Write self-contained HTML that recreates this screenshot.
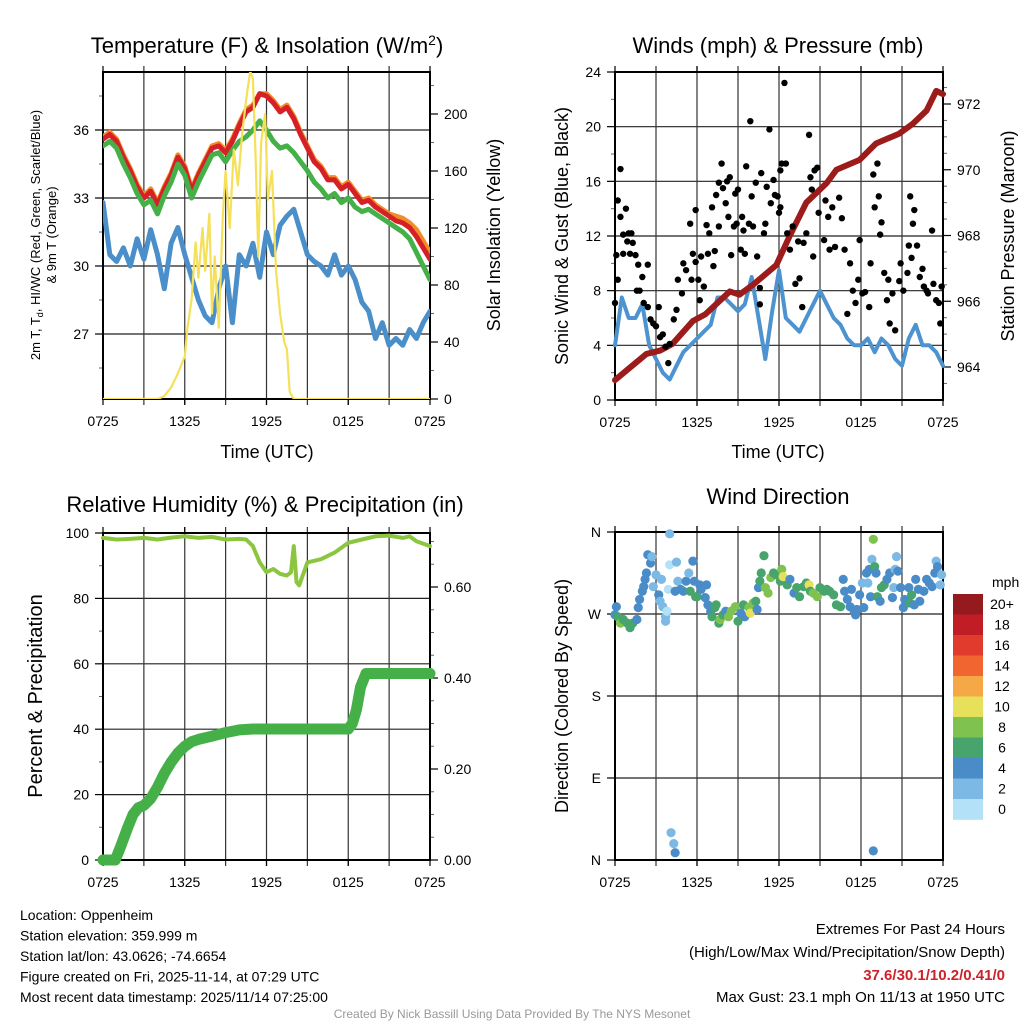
<!DOCTYPE html>
<html><head><meta charset="utf-8"><style>
body{margin:0;background:#fff;}
svg{display:block;font-family:"Liberation Sans",sans-serif;}
</style></head><body>
<svg id="s" width="1024" height="1024" viewBox="0 0 1024 1024"></svg>
<script>
// ---------- DATA ----------
const xTickLabels=["0725","1325","1925","0125","0725"];
const tHours=[0,0.5,1,1.5,2,2.5,3,3.5,4,4.5,5,5.5,6,6.5,7,7.5,8,8.5,9,9.5,10,10.5,11,11.5,12,12.5,13,13.5,14,14.5,15,15.5,16,16.5,17,17.5,18,18.5,19,19.5,20,20.5,21,21.5,22,22.5,23,23.5,24];
const temp2m=[35.6,35.8,35.5,34.8,34.2,33.5,33,33.3,32.7,33.4,34,34.8,34.3,33.3,34,34.6,35.2,35.3,35,35.5,36.2,36.8,37,37.6,37.5,37.2,36.8,37,36.5,35.8,35.2,34.6,34.3,33.8,33.8,33.4,33.6,33.2,32.8,32.9,32.6,32.4,32.2,32,31.9,31.7,31.3,30.8,30.3];
const temp9m=[35.7,35.9,35.6,34.9,34.3,33.6,33.1,33.4,32.8,33.5,34.1,34.9,34.4,33.4,34.1,34.7,35.3,35.4,35.1,35.6,36.3,36.9,37.1,37.6,37.6,37.3,36.9,37.1,36.6,35.9,35.3,34.7,34.4,33.9,33.9,33.5,33.7,33.3,32.9,33,32.7,32.5,32.3,32.2,32.1,31.9,31.6,31.1,30.6];
const heatIndex=[35.3,35.5,35.2,34.5,33.9,33.2,32.7,32.9,32.3,33.1,33.7,34.5,34,33,33.7,34.3,34.9,35,34.6,35.1,35.5,35.7,36,36.4,36,35.5,35.2,35.3,35,34.6,34.2,33.7,33.4,33,33.2,32.8,33,32.6,32.4,32.5,32.3,32.1,31.9,31.7,31.5,31.2,30.6,30,29.4];
const dewPoint=[32.8,30.5,30.2,30.8,30,31.2,30.3,31.6,30.5,29,31,31.7,30.5,29.5,28.5,27.8,27.5,29,30,27.5,30.5,30,31,29.5,31.5,30.5,31.8,32.2,32.5,31.5,30.5,30.2,30,29.6,30.5,29.6,30,29.4,28.4,28,26.8,27.5,26.5,26.8,26.5,27.2,26.8,27.5,28];
const solarHours=[0,4,4.5,5,5.5,6,6.2,6.5,6.8,7,7.3,7.5,7.8,8,8.2,8.5,8.8,9,9.3,9.6,9.9,10.2,10.5,10.8,11,11.2,11.4,11.6,11.9,12.1,12.4,12.7,13,13.3,13.5,13.7,14,24];
const solarVals=[0,0,2,8,18,30,50,70,110,85,120,90,130,60,100,50,130,160,120,175,150,185,210,230,225,170,100,180,200,140,160,90,60,40,35,5,0,0];
const windSpeed=[4,7.5,6,6,7,4,3,2,1.5,2.5,3.5,4,4.5,5,5.5,7.5,7.5,7,6.5,7,9,6,3,6.5,9.5,6,5.5,5,6,7,8,7,6,5.5,4.5,4,4,4.5,3.5,4.5,4,3,2.5,4.5,5.5,4,4,3.5,2.5];
const pressHours=[0,2.3,3.3,4.2,5.7,6.6,8.4,9.1,10.1,11.8,12.8,14,15.5,16.2,17.9,19.1,20.8,21.8,22.8,23.5,24];
const pressVals=[963.6,964.4,964.5,964.7,965.4,965.6,966.3,966.2,966.5,967.1,968,969,969.6,970,970.3,970.8,971.1,971.4,971.8,972.4,972.3];
const gustHours=[0,0.1,0.2,0.2,0.4,0.4,0.6,0.6,0.8,0.9,1,1.1,1.2,1.3,1.5,1.6,1.7,1.8,2,2.1,2.4,2.4,2.6,2.8,3,3.2,3.3,3.5,3.7,3.9,4,4.3,4.5,4.6,4.9,5,5.2,5.5,5.6,5.7,5.9,5.9,6.1,6.2,6.3,6.5,6.7,6.8,6.9,7.1,7.2,7.3,7.4,7.6,7.6,7.8,7.9,8.1,8.2,8.3,8.4,8.5,8.7,8.8,8.9,9,9.2,9.3,9.4,9.5,9.6,9.8,9.9,10,10.1,10.3,10.4,10.6,10.6,10.7,10.9,11,11.1,11.3,11.4,11.6,11.7,11.9,12,12.1,12.1,12.2,12.4,12.5,12.6,12.8,13,13.2,13.4,13.5,13.7,13.8,14,14.2,14.3,14.4,14.5,14.6,14.8,14.9,15.3,15.4,15.6,15.7,15.9,16.1,16.4,16.6,16.8,17,17.2,17.4,17.6,17.8,17.9,18.1,18.3,18.6,18.7,18.9,19,19.2,19.3,19.4,19.5,19.7,19.9,20,20.1,20.3,20.5,20.8,20.9,21.1,21.4,21.5,21.6,21.7,21.8,21.9,22.1,22.3,22.5,22.6,22.8,22.9,23.2,23.3,23.5,23.7,23.8,23.9];
const gustMph=[7.1,10.6,8.8,14.6,13.4,16.9,12.1,10.7,14,11.6,12.2,10.7,12.2,11.5,10.6,8,9.9,8,9,7.1,9.9,6.8,5.9,5.6,5.4,6.8,4.6,4.8,3.9,2.7,4.1,5.9,6.6,8.8,7.8,10,9.5,12.9,8.8,10.7,10.1,13.9,8.8,7.3,10.5,8.3,12.8,10.7,12.2,14.1,9.8,10.9,15,12.7,15.9,17.3,15.5,14.4,16,13.4,16.3,10.6,12.7,15.1,12.9,15.4,11,13.4,12.4,10.7,17.1,12.9,20.4,14.9,12.7,15.9,10.5,7,8.2,16.6,12.2,12.9,15.6,19.8,14.4,16.1,15,14.9,13.7,16.8,14.1,17.3,23.2,17.3,12.2,11,12.7,8.5,11.6,8.9,6.8,11.5,12.2,19.4,16.3,15.4,10.5,16.8,17,13.7,11.7,14.6,13.4,11,14.1,11.2,14.8,13.3,11,6.3,10,8,7.1,8.8,11.7,7.8,7.9,6.8,10,16.5,14.1,17.3,14.9,12.1,13,9.3,7.3,8.8,5.6,7.8,5.1,8.7,10,8,9.3,11.3,14.9,10.4,12.9,13.9,11.3,9,9.6,8.3,8,7.8,12.4,8.5,7.3,7.1,5.6,8.3];
const rhHours=[0,1,2,3,4,5,6,7,8,9,10,10.5,11,11.5,12,12.5,13,13.5,13.8,14,14.2,14.4,15,16,17,18,19,20,21,22,22.5,23,24];
const rhVals=[98.5,98,98.2,98.5,98,98.6,99,98.5,98.8,98,98.2,98,96,91,88,89,87.5,87,88,96,85,84,91,92,94,97,98,99,99.2,98.5,99,97.5,96];
const precipHours=[0,0.9,1.3,1.8,2.2,2.6,3,3.5,4,4.5,5,5.5,6,6.5,7,8,9,10,11,18,18.3,18.6,18.9,19.3,24];
const precipVals=[0,0,0.03,0.07,0.1,0.115,0.12,0.135,0.16,0.19,0.215,0.235,0.25,0.26,0.265,0.272,0.28,0.286,0.288,0.288,0.3,0.33,0.38,0.41,0.41];
const dirHours=[0,0.1,0.2,0.4,0.6,0.9,1.1,1.3,1.6,1.7,1.8,2,2.1,2.2,2.3,2.4,2.6,2.7,2.8,3,3.2,3.3,3.4,3.5,3.7,3.7,3.8,3.9,4,4,4.4,4.5,4.6,4.8,5,5.2,5.4,5.5,5.7,5.8,5.9,6,6.2,6.3,6.6,6.7,6.8,7,7.1,7.3,7.4,7.6,7.7,7.9,8.1,8.3,8.5,8.8,9,9.2,9.4,9.5,9.8,9.9,10.1,10.3,10.4,10.5,10.6,10.7,10.9,11,11.2,11.4,11.6,11.8,12.1,12.2,12.3,12.6,12.8,13.1,13.3,13.5,13.8,14,14.2,14.3,14.5,14.8,15,15.3,15.5,15.7,16,16.2,16.5,16.7,16.8,17,17.2,17.3,17.5,17.6,17.7,17.9,18.1,18.2,18.4,18.5,18.6,18.7,18.8,18.9,19,19.1,19.2,19.4,19.5,19.7,19.9,20.1,20.3,20.4,20.5,20.6,20.7,20.9,21.1,21.2,21.5,21.6,21.7,21.9,22,22.2,22.3,22.6,22.8,23,23.2,23.4,23.5,23.6,23.8,23.9,4.1,4.3,4.4,18.9];
const dirDeg=[269,278,267,260,264,260,255,260,264,277,286,295,300,308,315,335,326,333,300,313,291,284,308,278,267,262,273,297,324,358,295,327,306,297,295,306,315,295,328,306,289,289,302,297,288,302,280,273,267,277,280,260,264,269,273,267,273,278,262,271,280,267,277,271,282,284,275,299,306,315,334,299,293,310,315,313,306,319,311,302,308,293,299,289,300,304,302,295,293,289,299,295,297,295,291,280,278,308,295,286,278,297,273,269,275,291,304,277,315,304,319,289,330,352,322,315,289,284,299,302,308,315,288,299,319,333,317,299,277,286,299,282,291,280,308,297,284,295,308,304,300,315,328,322,302,313,30,18,8,10];
const dirSpeed=[4,4,6,8,6,6,6,6,4,4,4,4,4,4,4,4,4,2,2,2,4,2,2,2,2,2,0,0,0,2,4,2,2,4,4,4,2,6,4,4,6,6,4,4,4,4,4,4,6,6,6,6,8,6,4,8,8,8,6,4,6,4,8,10,8,6,4,4,6,6,6,8,8,8,6,6,6,8,10,6,4,4,6,6,6,6,10,6,8,8,6,6,6,6,6,6,6,4,4,4,4,4,4,4,4,4,2,4,4,2,4,4,2,8,6,4,6,4,6,6,4,4,4,2,2,2,4,4,4,4,4,6,6,4,4,4,4,4,4,4,4,4,2,4,2,2,2,2,4,4];
const speedBins=["0","2","4","6","8","10","12","14","16","18","20+"];
const speedColors=["#b3e1f7","#7cb9e4","#4a8cc7","#47a46c","#7fc24f","#e6e05b","#f6a846","#f06530","#e03b2c","#c11d27","#951a1e"];

// ---------- HELPERS ----------
const svg=document.getElementById('s');
const NS='http://www.w3.org/2000/svg';
function el(tag,attrs,parent){const e=document.createElementNS(NS,tag);for(const k in attrs)e.setAttribute(k,attrs[k]);(parent||svg).appendChild(e);return e;}
function txt(x,y,s,size,anchor,parent,extra){const t=el('text',Object.assign({x:x,y:y,'font-size':size,'text-anchor':anchor||'middle',fill:'#000'},extra||{}),parent);t.textContent=s;return t;}
function lin(d0,d1,r0,r1){return v=>r0+(v-d0)/(d1-d0)*(r1-r0);}
function poly(xs,ys,fx,fy){return xs.map((h,i)=>fx(h).toFixed(1)+','+fy(ys[i]).toFixed(1)).join(' ');}

function panel(name,L,R,T,B,leftTicks,fyL,rightTicks,fyR,hGridVals,minorL,minorR){
  const g=el('g',{});
  
  
  const fx=lin(0,24,L,R);
  // horizontal grid
  hGridVals.forEach(v=>{const y=fyL(v);const l=el('line',{x1:L,x2:R,y1:y,y2:y,stroke:'#222','stroke-width':1.2},g);});
  // vertical grid every 3h
  for(let h=3;h<24;h+=3){const l=el('line',{x1:fx(h),x2:fx(h),y1:T,y2:B+6,stroke:'#333','stroke-width':1.2},g);
    el('line',{x1:fx(h),x2:fx(h),y1:T-6,y2:T,stroke:'#333','stroke-width':1.2},g);}
  // x labels
  xTickLabels.forEach((s,i)=>{const h=i*6;el('line',{x1:fx(h),x2:fx(h),y1:B,y2:B+6,stroke:'#000','stroke-width':1.2},g);el('line',{x1:fx(h),x2:fx(h),y1:T-6,y2:T,stroke:'#000','stroke-width':1.2},g);const t=txt(fx(h),B+27,s,14,'middle',g);});
  // left ticks
  leftTicks.forEach(tk=>{const y=fyL(tk.v);el('line',{x1:L-8,x2:L,y1:y,y2:y,stroke:'#000','stroke-width':1.2},g);const t=txt(L-14,y+5,tk.s,14,'end',g);});
  (minorL||[]).forEach(v=>{const y=fyL(v);el('line',{x1:L-4,x2:L,y1:y,y2:y,stroke:'#666','stroke-width':1},g);});
  if(rightTicks){rightTicks.forEach(tk=>{const y=fyR(tk.v);el('line',{x1:R,x2:R+8,y1:y,y2:y,stroke:'#000','stroke-width':1.2},g);const t=txt(R+14,y+5,tk.s,14,'start',g);});
   (minorR||[]).forEach(v=>{const y=fyR(v);el('line',{x1:R,x2:R+4,y1:y,y2:y,stroke:'#666','stroke-width':1},g);});}
  const f=el('rect',{x:L,y:T,width:R-L,height:B-T,fill:'none',stroke:'#000','stroke-width':2},g);
  
  return {g,fx};
}
function line(g,name,xs,ys,fx,fy,color,w){const p=el('polyline',{points:poly(xs,ys,fx,fy),fill:'none',stroke:color,'stroke-width':w,'stroke-linejoin':'round','stroke-linecap':'round'},g);return p;}

// ---------- PANEL 1 ----------
{
 const L=103,R=430,T=72,B=399;
 const fyL=lin(27,36,334,130), fyR=lin(0,200,399,114);
 const P=panel('temperature-panel',L,R,T,B,[{v:27,s:'27'},{v:30,s:'30'},{v:33,s:'33'},{v:36,s:'36'}],fyL,
  [0,40,80,120,160,200].map(v=>({v:v,s:String(v)})),fyR,[27,30,33,36],[25.5,28.5,31.5,34.5,37.5],[20,60,100,140,180,220]);
 const g=P.g,fx=P.fx;
 const cp=el('clipPath',{id:'c1'},g);el('rect',{x:L,y:T,width:R-L,height:B-T},cp);
 const pg=el('g',{'clip-path':'url(#c1)'},g);
 line(pg,'dewpoint-line',tHours,dewPoint,fx,fyL,'#4a8fc9',5);
 line(pg,'temp-9m-line',tHours,temp9m,fx,fyL,'#f28c28',5);
 line(pg,'temp-2m-line',tHours,temp2m,fx,fyL,'#d62027',5);
 line(pg,'heat-index-line',tHours,heatIndex,fx,fyL,'#45b047',5);
 line(pg,'solar-line',solarHours,solarVals,fx,fyR,'#f5e05a',2.2);
 let t=txt(267,53,'',22,'middle',g);
 t.innerHTML='Temperature (F) &amp; Insolation (W/m<tspan dy="-8" font-size="14">2</tspan><tspan dy="8">)</tspan>';
 t=txt(267,458,'Time (UTC)',18,'middle',g);
 t=el('text',{transform:'translate(40,235) rotate(-90)','font-size':13,'text-anchor':'middle',fill:'#000'},g);
 
 t.innerHTML='2m T, T<tspan font-size="9" dy="3">d</tspan><tspan dy="-3">, HI/WC (Red, Green, Scarlet/Blue)</tspan>';
 t=txt(0,0,'& 9m T (Orange)',13,'middle',g,{transform:'translate(56,235) rotate(-90)'});
 t=txt(0,0,'Solar Insolation (Yellow)',18,'middle',g,{transform:'translate(500,235) rotate(-90)'});
}
// ---------- PANEL 2 ----------
{
 const L=615,R=943,T=72,B=400;
 const fyL=lin(0,24,400,72), fyR=lin(964,972,367,104);
 const P=panel('winds-panel',L,R,T,B,[0,4,8,12,16,20,24].map(v=>({v:v,s:String(v)})),fyL,
  [964,966,968,970,972].map(v=>({v:v,s:String(v)})),fyR,[4,8,12,16,20],[2,6,10,14,18,22],[963.5,964.5,965,965.5,966.5,967,967.5,968.5,969,969.5,970.5,971,971.5,972.5]);
 const g=P.g,fx=P.fx;
 line(g,'sonic-wind-line',tHours,windSpeed,fx,fyL,'#4d93d0',4);
 line(g,'pressure-line',pressHours,pressVals,fx,fyR,'#9c1b1b',6);
 gustHours.forEach((h,i)=>{const c=el('circle',{cx:fx(h),cy:fyL(gustMph[i]),r:3.2,fill:'#000'},g);});
 let t=txt(778,53,'Winds (mph) & Pressure (mb)',22,'middle',g);
 t=txt(778,458,'Time (UTC)',18,'middle',g);
 t=txt(0,0,'Sonic Wind & Gust (Blue, Black)',18,'middle',g,{transform:'translate(568,236) rotate(-90)'});
 t=txt(0,0,'Station Pressure (Maroon)',18,'middle',g,{transform:'translate(1014,236) rotate(-90)'});
}
// ---------- PANEL 3 ----------
{
 const L=103,R=430,T=533,B=860;
 const fyL=lin(0,100,860,533), fyR=lin(0,0.2,860,769);
 const P=panel('humidity-panel',L,R,T,B,[0,20,40,60,80,100].map(v=>({v:v,s:String(v)})),fyL,
  [0,0.2,0.4,0.6].map(v=>({v:v,s:v.toFixed(2)})),fyR,[20,40,60,80],[10,30,50,70,90],[0.05,0.1,0.15,0.25,0.3,0.35,0.45,0.5,0.55,0.65,0.7]);
 const g=P.g,fx=P.fx;
 line(g,'precip-line',precipHours,precipVals,fx,fyR,'#45b047',11);
 line(g,'rh-line',rhHours,rhVals,fx,fyL,'#8cc63f',4);
 let t=txt(265,512,'Relative Humidity (%) & Precipitation (in)',22,'middle',g);
 t=txt(0,0,'Percent & Precipitation',20,'middle',g,{transform:'translate(42,696) rotate(-90)'});
}
// ---------- PANEL 4 ----------
{
 const L=615,R=943,T=532,B=860;
 const fy=lin(0,360,860,532);
 const P=panel('wind-direction-panel',L,R,T,B,[{v:0,s:'N'},{v:90,s:'E'},{v:180,s:'S'},{v:270,s:'W'},{v:360,s:'N'}],fy,null,null,[90,180,270]);
 const g=P.g,fx=P.fx;
 dirHours.forEach((h,i)=>{const c=el('circle',{cx:fx(h),cy:fy(dirDeg[i]),r:4.6,fill:speedColors[Math.min(10,Math.round(dirSpeed[i]/2))]},g);});
 let t=txt(778,504,'Wind Direction',22,'middle',g);
 t=txt(0,0,'Direction (Colored By Speed)',18,'middle',g,{transform:'translate(568,696) rotate(-90)'});
 // colorbar
 const cb=el('g',{},svg);
 t=txt(992,587,'mph',14,'start',cb);
 const top=594,h=20.5;
 for(let i=0;i<11;i++){const k=10-i;const r=el('rect',{x:953,y:top+i*h,width:30,height:h+0.3,fill:speedColors[k]},cb);
  const s=txt(1002,top+i*h+15,speedBins[k],14,'middle',cb);}
}
// ---------- FOOTER ----------
{
 const g=el('g',{});
 ["Location: Oppenheim","Station elevation: 359.999 m","Station lat/lon: 43.0626; -74.6654","Figure created on Fri, 2025-11-14, at 07:29 UTC","Most recent data timestamp: 2025/11/14 07:25:00"].forEach((s,i)=>{const t=txt(20,920+i*20.5,s,14,'start',g);});
 let t=txt(1005,934,'Extremes For Past 24 Hours',15,'end',g);
 t=txt(1005,957,'(High/Low/Max Wind/Precipitation/Snow Depth)',15,'end',g);
 t=txt(1005,980,'37.6/30.1/10.2/0.41/0',15,'end',g,{fill:'#d0202a','font-weight':'bold'});
 t=txt(1005,1002,'Max Gust: 23.1 mph On 11/13 at 1950 UTC',15,'end',g);
 t=txt(512,1018,'Created By Nick Bassill Using Data Provided By The NYS Mesonet',12,'middle',g,{fill:'#999'});
}
</script>
</body></html>
